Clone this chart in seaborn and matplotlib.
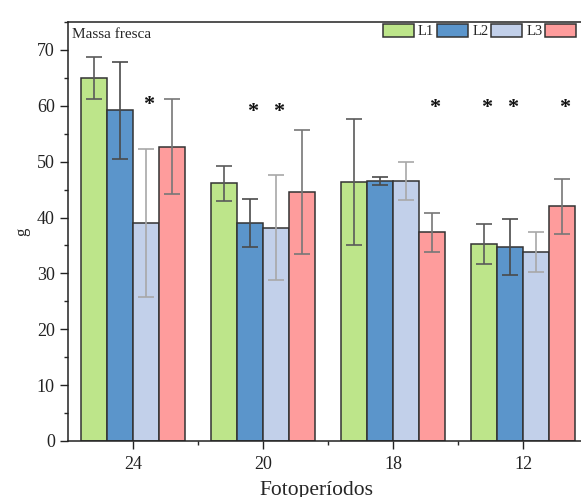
import numpy as np
import pandas as pd
import seaborn as sns
import matplotlib.pyplot as plt
from matplotlib.ticker import MultipleLocator

# data
categories = ['24', '20', '18', '12']
series = ['L1', 'L2', 'L3', 'HPS']

l1 = [65.0, 46.1, 46.4, 35.3]
l2 = [59.2, 39.1, 46.5, 34.8]
l3 = [39.0, 38.2, 46.6, 33.8]
hps = [52.7, 44.5, 37.4, 42.0]

l1_err = [3.8, 3.1, 11.3, 3.6]
l2_err = [8.7, 4.3, 0.7, 5.0]
l3_err = [13.2, 9.4, 3.4, 3.6]
hps_err = [8.5, 11.1, 3.5, 4.9]

# significance marks: (category, series, height)
stars = [('24', 'L3', 60.2),
         ('20', 'L2', 58.9), ('20', 'L3', 58.9),
         ('18', 'HPS', 59.6),
         ('12', 'L1', 59.6), ('12', 'L2', 59.6), ('12', 'HPS', 59.6)]

#--------------------------------------------------------------------------------------------------

means = [l1, l2, l3, hps]
errs = [l1_err, l2_err, l3_err, hps_err]

df = pd.DataFrame({
    'foto': np.repeat([categories], len(series), axis=0).ravel(),
    'serie': np.repeat(series, len(categories)),
    'g': np.ravel(means),
})

colors = ['#bde58a', '#5b95cb', '#c2d0ea', '#fe9c9c']
err_colors = ['#5a5a5a', '#4a4a4a', '#a8a8a8', '#777777']

sns.set_style('ticks')
plt.rcParams['font.family'] = ['Liberation Serif', 'DejaVu Serif']

fig = plt.figure(figsize=(5.81, 4.97), dpi=100)
ax = fig.add_axes([0.117, 0.1127, 0.895, 0.843])

sns.barplot(x='foto', y='g', hue='serie', data=df, order=categories,
            hue_order=series, palette=colors, width=0.8, errorbar=None,
            edgecolor='#333333', linewidth=1.1, saturation=1, ax=ax)

# error bars at the centre of every bar
centers = {}
bar_groups = list(ax.containers)
for i, cont in enumerate(bar_groups):
    xs = [p.get_x() + p.get_width() / 2 for p in cont.patches]
    ax.errorbar(xs, means[i], yerr=errs[i], fmt='none', ecolor=err_colors[i],
                elinewidth=1.2, capsize=5.5, capthick=1.2, zorder=5)
    for c, x in zip(categories, xs):
        centers[(c, series[i])] = x

for c, s, h in stars:
    ax.text(centers[(c, s)] + 0.02, h, '*', ha='center', va='center',
            fontsize=16, fontweight='bold', color='#111111')

ax.set_xlim(-0.5, 3.5)
ax.set_ylim(0, 75)
ax.yaxis.set_major_locator(MultipleLocator(10))
ax.yaxis.set_minor_locator(MultipleLocator(5))
ax.set_xticks([0.5, 1.5, 2.5], minor=True)

ax.tick_params(axis='both', which='major', direction='out', length=6,
               width=1, labelsize=13, colors='#222222')
ax.tick_params(axis='x', which='major', pad=5)
ax.tick_params(axis='both', which='minor', direction='out', length=3, width=1)
ax.tick_params(axis='y', which='major', right=True, labelright=False)

for sp in ax.spines.values():
    sp.set_visible(True)
    sp.set_linewidth(1.1)
    sp.set_color('#222222')

ax.set_xlabel('Fotoperíodos', fontsize=15.5)
ax.xaxis.set_label_coords(0.477, -0.095)
ax.set_ylabel('g', fontsize=12, labelpad=5)

ax.text(0.008, 0.985, 'Massa fresca', transform=ax.transAxes, fontsize=11,
        ha='left', va='top')

ax.legend(loc='upper left', bbox_to_anchor=(0.606, 0.995), ncol=4,
          frameon=False, fontsize=10.5, handlelength=2.1, handleheight=0.95,
          handletextpad=0.3, columnspacing=0.2, borderpad=0,
          borderaxespad=0)

fig.savefig('out.png', dpi=100)
